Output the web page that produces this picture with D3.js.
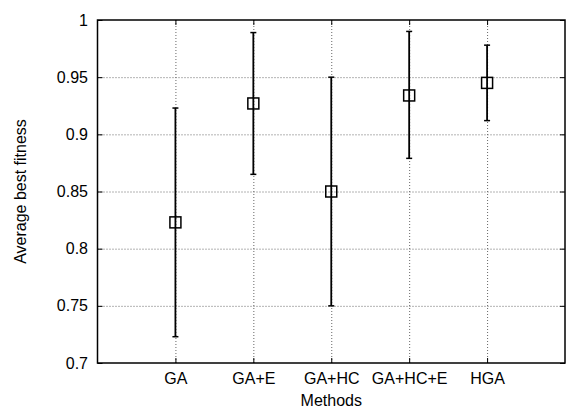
<!DOCTYPE html>
<html>
<head>
<meta charset="utf-8">
<script src="https://cdn.jsdelivr.net/npm/d3@7"></script>
<style>
  body { margin: 0; background: #fff; }
  text { font-family: "Liberation Sans", Arial, sans-serif; fill: #000; }
  .grid line { stroke: #666; stroke-dasharray: 1,2; }
  .grid path { display: none; }
  .axisNum { font-size: 16px; }
</style>
</head>
<body>
<svg width="576" height="409"></svg>
<script>
const methods = ['GA', 'GA+E', 'GA+HC', 'GA+HC+E', 'HGA'];
const means = [0.823, 0.927, 0.850, 0.934, 0.945];
const lows = [0.723, 0.865, 0.750, 0.879, 0.912];
const highs = [0.923, 0.989, 0.950, 0.990, 0.978];
const yTicks = [0.7, 0.75, 0.8, 0.85, 0.9, 0.95, 1];

const svg = d3.select('svg');
const plotLeft = 97.5, plotRight = 565, plotTop = 20, plotBottom = 363;

const xScale = d3.scaleLinear().domain([0, methods.length + 1]).range([plotLeft, plotRight]);
const yScale = d3.scaleLinear().domain([0.7, 1]).range([plotBottom, plotTop]);
const xPos = (d, i) => xScale(i + 1);
const xTickVals = methods.map((m, i) => i + 1);

// grid
svg.append('g')
  .attr('class', 'grid')
  .attr('transform', `translate(0, ${plotBottom})`)
  .call(d3.axisBottom(xScale).tickValues(xTickVals).tickSize(-(plotBottom - plotTop)).tickFormat(''))
svg.append('g')
  .attr('class', 'grid')
  .attr('transform', `translate(${plotLeft}, 0)`)
  .call(d3.axisLeft(yScale).tickValues(yTicks.slice(1, -1)).tickSize(-(plotRight - plotLeft)).tickFormat(''))

// axes with inward ticks
const yAxis = svg.append('g')
  .attr('transform', `translate(${plotLeft}, 0)`)
  .call(d3.axisLeft(yScale).tickValues(yTicks).tickSize(-5).tickPadding(9.5).tickFormat(d3.format('')))
yAxis.select('.domain').remove()
yAxis.selectAll('text').attr('class', 'axisNum')

const yAxisR = svg.append('g')
  .attr('transform', `translate(${plotRight}, 0)`)
  .call(d3.axisRight(yScale).tickValues(yTicks).tickSize(-5).tickFormat(''))
yAxisR.select('.domain').remove()

const xAxis = svg.append('g')
  .attr('transform', `translate(0, ${plotBottom})`)
  .call(d3.axisBottom(xScale).tickValues(xTickVals).tickSize(-5).tickPadding(10).tickFormat(d => methods[d - 1]))
xAxis.select('.domain').remove()
xAxis.selectAll('text').attr('class', 'axisNum')

const xAxisT = svg.append('g')
  .attr('transform', `translate(0, ${plotTop})`)
  .call(d3.axisTop(xScale).tickValues(xTickVals).tickSize(-5).tickFormat(''))
xAxisT.select('.domain').remove()

// frame
svg.append('rect')
  .attr('x', plotLeft).attr('y', plotTop)
  .attr('width', plotRight - plotLeft).attr('height', plotBottom - plotTop)
  .attr('fill', 'none').attr('stroke', '#000').attr('stroke-width', 1.5)

// error bars
const bars = svg.append('g').selectAll('g')
  .data(methods)
  .enter()
  .append('g')

bars.append('line')
  .attr('x1', xPos).attr('x2', xPos)
  .attr('y1', (d, i) => yScale(lows[i]))
  .attr('y2', (d, i) => yScale(highs[i]))
  .attr('stroke', '#000').attr('stroke-width', 1.8)

bars.append('line')
  .attr('x1', (d, i) => xPos(d, i) - 3).attr('x2', (d, i) => xPos(d, i) + 3)
  .attr('y1', (d, i) => yScale(lows[i])).attr('y2', (d, i) => yScale(lows[i]))
  .attr('stroke', '#000').attr('stroke-width', 1.5)

bars.append('line')
  .attr('x1', (d, i) => xPos(d, i) - 3).attr('x2', (d, i) => xPos(d, i) + 3)
  .attr('y1', (d, i) => yScale(highs[i])).attr('y2', (d, i) => yScale(highs[i]))
  .attr('stroke', '#000').attr('stroke-width', 1.5)

bars.append('rect')
  .attr('x', (d, i) => xPos(d, i) - 5.5)
  .attr('y', (d, i) => yScale(means[i]) - 5.5)
  .attr('width', 11).attr('height', 11)
  .attr('fill', 'none').attr('stroke', '#000').attr('stroke-width', 1.5)

// labels
svg.append('text')
  .attr('transform', `translate(25.5, ${(plotTop + plotBottom) / 2}) rotate(-90)`)
  .attr('text-anchor', 'middle')
  .style('font-size', '16px')
  .text('Average best fitness')

svg.append('text')
  .attr('x', (plotLeft + plotRight) / 2)
  .attr('y', 406)
  .attr('text-anchor', 'middle')
  .style('font-size', '16px')
  .text('Methods')
</script>
</body>
</html>
